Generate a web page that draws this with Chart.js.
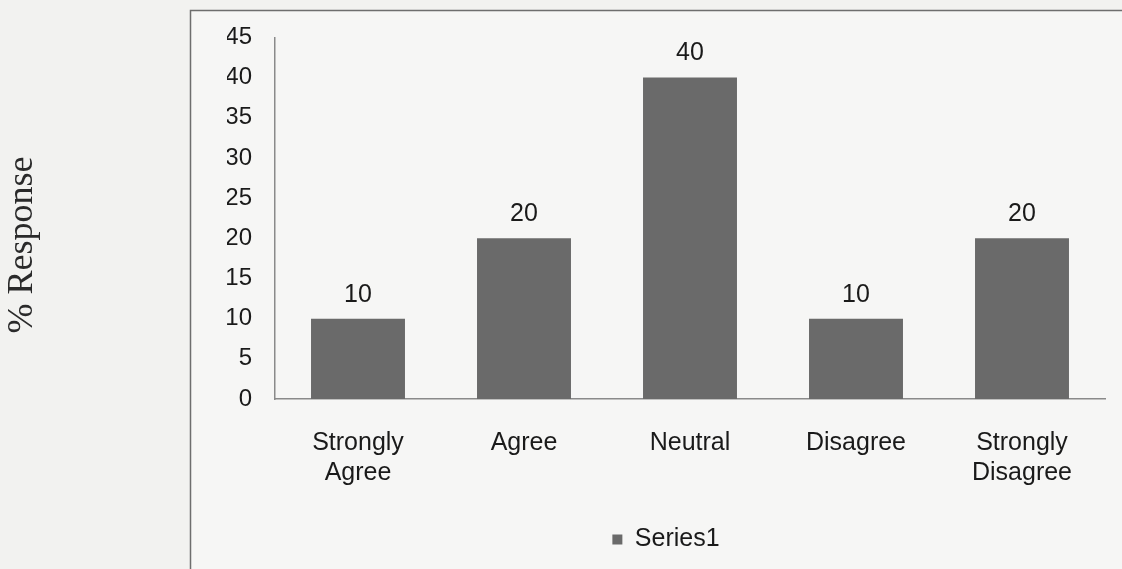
<!DOCTYPE html>
<html>
<head>
<meta charset="utf-8">
<script src="https://cdn.jsdelivr.net/npm/chart.js@4"></script>
<style>
  html, body { margin: 0; padding: 0; background: #f2f2f0; }
  #wrap { width: 1122px; height: 569px; position: relative; }
</style>
</head>
<body>
<div id="wrap"><canvas id="c" width="1122" height="569"></canvas></div>
<script>
const categories = [["Strongly", "Agree"], "Agree", "Neutral", "Disagree", ["Strongly", "Disagree"]];
const seriesName = "Series1";
const seriesValues = [10, 20, 40, 10, 20];
const yTicks = [0, 5, 10, 15, 20, 25, 30, 35, 40, 45];
const yTitle = "% Response";

const FONT = "'Liberation Sans', Arial, sans-serif";
const TEXT = "#1a1a1a";

const frame = {
  id: 'frame',
  beforeDraw(chart) {
    const ctx = chart.ctx;
    ctx.save();
    ctx.fillStyle = '#f2f2f0';
    ctx.fillRect(0, 0, chart.width, chart.height);
    ctx.fillStyle = '#f6f6f5';
    ctx.fillRect(190, 10, chart.width, chart.height);
    ctx.strokeStyle = '#6e6e6e';
    ctx.lineWidth = 1.5;
    ctx.beginPath();
    ctx.moveTo(190.5, chart.height + 5);
    ctx.lineTo(190.5, 10.5);
    ctx.lineTo(chart.width + 5, 10.5);
    ctx.stroke();
    ctx.restore();
  },
  afterDraw(chart) {
    const ctx = chart.ctx;
    ctx.save();
    // y axis title
    ctx.translate(23, 245);
    ctx.rotate(-Math.PI / 2);
    ctx.font = "36px 'Liberation Serif', 'Times New Roman', serif";
    ctx.fillStyle = '#2a2a2a';
    ctx.textAlign = 'center';
    ctx.textBaseline = 'middle';
    ctx.fillText(yTitle, 0, 0);
    ctx.restore();
    // value labels
    ctx.save();
    ctx.font = "25px " + FONT;
    ctx.fillStyle = TEXT;
    ctx.textAlign = 'center';
    ctx.textBaseline = 'middle';
    const meta = chart.getDatasetMeta(0);
    meta.data.forEach((bar, i) => {
      ctx.fillText(String(seriesValues[i]), bar.x, bar.y - 24);
    });
    ctx.restore();
  }
};

new Chart(document.getElementById('c'), {
  type: 'bar',
  data: {
    labels: categories,
    datasets: [{
      label: seriesName,
      data: seriesValues,
      backgroundColor: '#6a6a6a',
      borderWidth: 0,
      barPercentage: 0.566,
      categoryPercentage: 1.0
    }]
  },
  options: {
    responsive: false,
    animation: false,
    devicePixelRatio: 1,
    layout: { padding: { left: 227, right: 17, top: 35, bottom: 7 } },
    scales: {
      x: {
        grid: { display: false, drawTicks: false },
        border: { display: true, color: '#8a8a8a', width: 1.5 },
        ticks: { font: { family: FONT, size: 25 }, color: TEXT, padding: 29, maxRotation: 0, autoSkip: false },
        afterFit(s) { s.height = 118; }
      },
      y: {
        min: 0, max: 45,
        grid: { display: false, drawTicks: false },
        border: { display: true, color: '#8a8a8a', width: 1.5 },
        afterBuildTicks(s) { s.ticks = yTicks.map(v => ({ value: v })); },
        ticks: { font: { family: FONT, size: 24 }, color: TEXT, padding: 23 },
        afterFit(s) { s.width = 48; }
      }
    },
    plugins: {
      legend: {
        position: 'bottom',
        labels: {
          font: { family: FONT, size: 25 },
          color: TEXT,
          boxWidth: 10,
          boxHeight: 10,
          padding: 10
        }
      },
      tooltip: { enabled: false }
    }
  },
  plugins: [frame]
});
</script>
</body>
</html>
